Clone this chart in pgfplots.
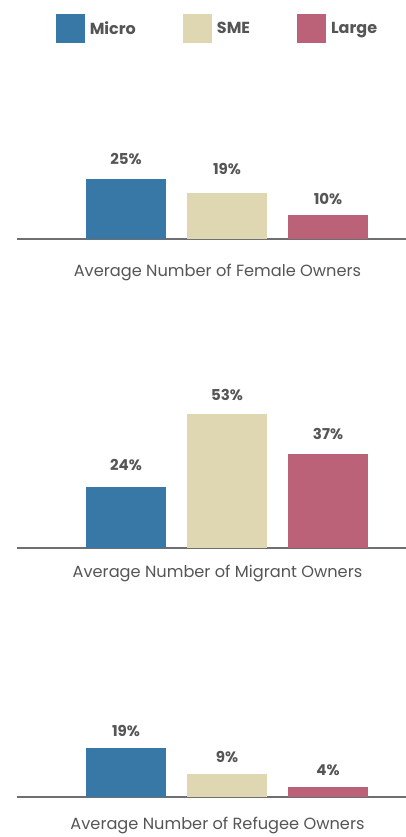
\documentclass[border=0pt]{standalone}
\usepackage{fontspec}
\setmainfont{Poppins}
\usepackage{pgfplots}
\pgfplotsset{compat=1.18}

\definecolor{micro}{HTML}{3878A6}
\definecolor{sme}{HTML}{DFD6B2}
\definecolor{large}{HTML}{BC6278}
\definecolor{txt}{HTML}{555555}
\definecolor{axisgray}{HTML}{6F6F73}

\pgfplotsset{
  panel/.style={
    scale only axis, width=389pt, height=#1,
    xmin=-1.079, xmax=2.772, ymin=0, ymax=60,
    axis lines=none, xtick=\empty, ytick=\empty,
    clip=false,
    ybar, bar width=80pt,
    nodes near coords={\pgfmathprintnumber[assume math mode=true]{\pgfplotspointmeta}\%},
    every node near coord/.append style={font=\bfseries\fontsize{15}{17}\selectfont,
      text=txt, anchor=south, yshift=12pt},
  },
  bar/.style={fill=#1, draw=none, bar shift=0pt},
}
\newcommand{\panelcaption}[2]{%
  \node[font=\fontsize{16.2}{18}\selectfont, text=txt, anchor=center]
    at ([yshift=-#1]axis description cs:0.5154,0) {#2};}

\begin{document}
\begin{tikzpicture}
\useasboundingbox (0pt,0pt) rectangle (406pt,-837pt);

% Female owners
\begin{axis}[panel=144pt, at={(17pt,-239pt)}, anchor=south west,
  legend columns=3,
  legend image code/.code={\fill[#1] (0pt,-14.5pt) rectangle (29pt,14.5pt);},
  legend style={at={(axis description cs:0.5154,1.462)}, anchor=center,
    draw=none, fill=none, font=\bfseries\fontsize{16}{18}\selectfont, text=txt,
    /tikz/every odd column/.append style={column sep=3pt},
    /tikz/every even column/.append style={column sep=45pt}}]
  \draw[axisgray, line width=2pt] (axis description cs:0,0) -- (axis description cs:1,0);
  \addplot[bar=micro, every node near coord/.append style={yshift=-1pt}] coordinates {(0,25)};
  \addplot[bar=sme, every node near coord/.append style={yshift=3pt}] coordinates {(1,19)};
  \addplot[bar=large, every node near coord/.append style={yshift=-5pt}] coordinates {(2,10)};
  \legend{Micro, SME, Large}
  \panelcaption{33pt}{Average Number of Female Owners}
\end{axis}

% Migrant owners
\begin{axis}[panel=151.8pt, at={(17pt,-548pt)}, anchor=south west]
  \draw[axisgray, line width=2pt] (axis description cs:0,0) -- (axis description cs:1,0);
  \addplot[bar=micro, every node near coord/.append style={yshift=1pt}] coordinates {(0,24)};
  \addplot[bar=sme, every node near coord/.append style={yshift=-2pt}] coordinates {(1,53)};
  \addplot[bar=large, every node near coord/.append style={yshift=-1pt}] coordinates {(2,37)};
  \panelcaption{25pt}{Average Number of Migrant Owners}
\end{axis}

% Refugee owners
\begin{axis}[panel=156pt, at={(17pt,-797pt)}, anchor=south west]
  \draw[axisgray, line width=2pt] (axis description cs:0,0) -- (axis description cs:1,0);
  \addplot[bar=micro, every node near coord/.append style={yshift=-5pt}] coordinates {(0,19)};
  \addplot[bar=sme, every node near coord/.append style={yshift=-5pt}] coordinates {(1,9)};
  \addplot[bar=large, every node near coord/.append style={yshift=-5pt}] coordinates {(2,4)};
  \panelcaption{28pt}{Average Number of Refugee Owners}
\end{axis}
\end{tikzpicture}
\end{document}
